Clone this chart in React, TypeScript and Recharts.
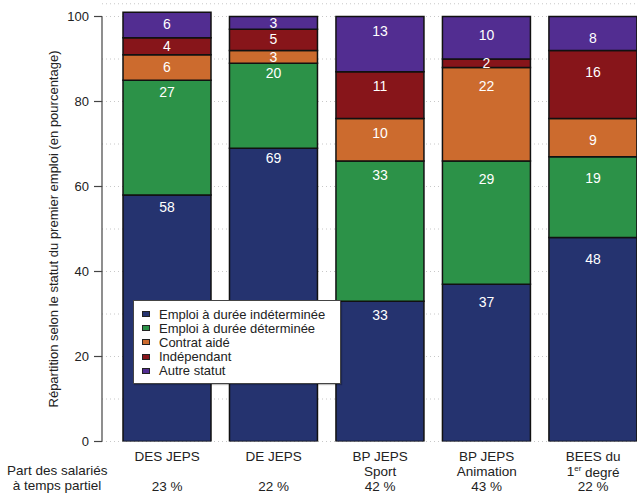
import { BarChart, Bar, XAxis, YAxis, CartesianGrid, LabelList, Label } from 'recharts';

const categories = ['DES JEPS', 'DE JEPS', 'BP JEPS Sport', 'BP JEPS Animation', 'BEES du 1er degré'];
const categoryLines = [['DES JEPS'], ['DE JEPS'], ['BP JEPS', 'Sport'], ['BP JEPS', 'Animation'], ['BEES du', '1er degré']];

const seriesNames = [
  'Emploi à durée indéterminée',
  'Emploi à durée déterminée',
  'Contrat aidé',
  'Indépendant',
  'Autre statut',
];
const cdi = [58, 69, 33, 37, 48];
const cdd = [27, 20, 33, 29, 19];
const contratAide = [6, 3, 10, 22, 9];
const independant = [4, 5, 11, 2, 16];
const autreStatut = [6, 3, 13, 10, 8];
const tempsPartiel = [23, 22, 42, 43, 22];

const yTicks = [0, 20, 40, 60, 80, 100];
const gridTicks = [0, 5, 10, 15, 20, 25, 30, 35, 40, 45, 50, 55, 60, 65, 70, 75, 80, 85, 90, 95, 100];

const colors = ['#25336f', '#2c9248', '#cc6b2e', '#87151a', '#522d91'];
const keys = ['cdi', 'cdd', 'aide', 'indep', 'autre'];

const data = categories.map((name, i) => ({
  name,
  cdi: cdi[i],
  cdd: cdd[i],
  aide: contratAide[i],
  indep: independant[i],
  autre: autreStatut[i],
}));

// layout
const W = 650;
const H = 494;
const TOP = 3.75;
const X_AXIS_H = 52.5;
const Y_MAX = 103;
const plotBottom = H - X_AXIS_H;
const pxPerUnit = (plotBottom - TOP) / Y_MAX;
const FONT = '"Liberation Sans", Arial, Helvetica, sans-serif';

// how far below each segment top the value sits
const labelDrop = [12, 10, 14, 18, 21];

const SegmentLabel = (props: any) => {
  const { x, y, width, height, value, index } = props;
  if (!value) return null;
  const top = Math.min(y, y + height);
  const h = Math.abs(height);
  const drop = index === 4 ? labelDrop[index] : Math.min(labelDrop[index] ?? 12, h / 2);
  return (
    <text
      x={x + width / 2}
      y={top + drop}
      fill="#fff"
      fontSize={14}
      textAnchor="middle"
      dominantBaseline="central"
      fontFamily={FONT}
    >
      {value}
    </text>
  );
};

const YTick = (props: any) => {
  const { x, y, payload } = props;
  return (
    <g>
      {payload.value === 0 && (
        <line x1={x + 13} x2={x + 13} y1={y} y2={y - 100 * pxPerUnit} stroke="#444" strokeWidth={1.2} />
      )}
      <line x1={x + 5} x2={x + 13} y1={y} y2={y} stroke="#444" strokeWidth={1.2} />
      <text x={x} y={y} textAnchor="end" dominantBaseline="central" fontSize={13} fill="#222" fontFamily={FONT}>
        {payload.value}
      </text>
    </g>
  );
};

const renderLine = (line: string) => {
  if (line.startsWith('1er')) {
    return (
      <>
        1<tspan fontSize={8} dy={-4}>er</tspan>
        <tspan dy={4}>{line.slice(3)}</tspan>
      </>
    );
  }
  return line;
};

const XTick = (props: any) => {
  const { x, y, payload } = props;
  const i = categories.indexOf(payload.value);
  const lines = categoryLines[i] || [payload.value];
  return (
    <g fontFamily={FONT} fontSize={13.5} fill="#222">
      {lines.map((line, k) => (
        <text key={k} x={x} y={y + 15 + k * 15} textAnchor="middle" dominantBaseline="central" fill="#222">
          {renderLine(line)}
        </text>
      ))}
      <text x={x} y={y + 45} textAnchor="middle" dominantBaseline="central" fill="#222">
        {tempsPartiel[i]} %
      </text>
    </g>
  );
};

const YLabel = () => {
  const cx = 53;
  const cy = plotBottom - 50 * pxPerUnit;
  return (
    <text
      x={cx}
      y={cy}
      transform={`rotate(-90 ${cx} ${cy})`}
      textAnchor="middle"
      dominantBaseline="central"
      fontSize={13}
      fill="#222"
      fontFamily={FONT}
    >
      Répartition selon le statut du premier emploi (en pourcentage)
    </text>
  );
};

const LegendBox = () => (
  <div
    style={{
      position: 'absolute',
      left: 133,
      top: 300,
      width: 198,
      height: 76,
      border: '1px solid #444',
      background: '#fff',
      boxShadow: '1px 1px 1px rgba(0,0,0,0.25)',
      paddingTop: 6,
      paddingLeft: 8,
      boxSizing: 'content-box',
      fontFamily: FONT,
      fontSize: 13,
      color: '#222',
    }}
  >
    {seriesNames.map((s, i) => (
      <div key={s} style={{ display: 'flex', alignItems: 'center', height: 14.2, whiteSpace: 'nowrap' }}>
        <span
          style={{
            display: 'inline-block',
            width: 6,
            height: 4,
            background: colors[i],
            border: '1px solid #222',
            marginRight: 9,
          }}
        />
        {s}
      </div>
    ))}
  </div>
);

export default function App() {
  return (
    <div
      style={{
        position: 'absolute',
        left: 0,
        top: 0,
        width: 637,
        height: 494,
        overflow: 'hidden',
        background: '#fff',
        fontFamily: FONT,
      }}
    >
      <BarChart width={W} height={H} data={data} margin={{ top: TOP, right: 3.6, left: 0, bottom: 0 }}>
        <CartesianGrid
          yAxisId="grid"
          vertical={false}
          stroke="#c8c8c8"
          strokeDasharray="1 3"
        />
        <XAxis
          dataKey="name"
          height={X_AXIS_H}
          axisLine={false}
          tickLine={false}
          tickSize={0}
          tickMargin={0}
          interval={0}
          padding={{ left: 12, right: 0 }}
          tick={<XTick />}
        />
        <YAxis
          yAxisId="grid"
          hide
          domain={[0, Y_MAX]}
          ticks={gridTicks}
          allowDataOverflow
        />
        <YAxis
          domain={[0, Y_MAX]}
          ticks={yTicks}
          width={102}
          axisLine={false}
          tickLine={false}
          tick={<YTick />}
          tickSize={0}
          tickMargin={13}
          allowDataOverflow
        >
          <Label content={<YLabel />} />
        </YAxis>
        {keys.map((k, i) => (
          <Bar
            key={k}
            dataKey={k}
            name={seriesNames[i]}
            stackId="s"
            fill={colors[i]}
            stroke="#111"
            strokeWidth={1.5}
            barSize={88}
            isAnimationActive={false}
          >
            <LabelList dataKey={k} content={<SegmentLabel />} />
          </Bar>
        ))}
      </BarChart>
      <LegendBox />
      <div
        style={{
          position: 'absolute',
          left: 7,
          width: 100,
          top: 463,
          textAlign: 'center',
          fontSize: 13.5,
          lineHeight: '15px',
          color: '#222',
          whiteSpace: 'nowrap',
        }}
      >
        Part des salariés
        <br />à temps partiel
      </div>
    </div>
  );
}
